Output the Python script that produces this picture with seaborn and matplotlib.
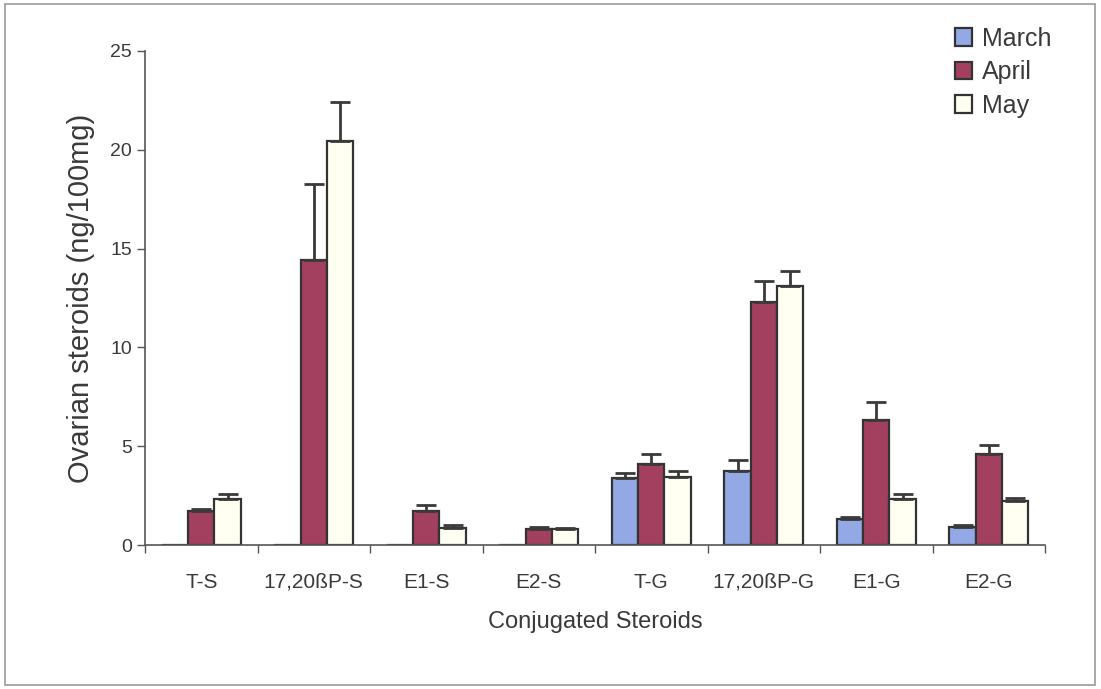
import matplotlib
matplotlib.use("Agg")
import matplotlib.pyplot as plt
import seaborn as sns
import pandas as pd
import numpy as np
from matplotlib.patches import Rectangle

categories = ["T-S", "17,20ßP-S", "E1-S", "E2-S", "T-G", "17,20ßP-G", "E1-G", "E2-G"]
months = ["March", "April", "May"]
march = [0, 0, 0, 0, 3.37, 3.75, 1.30, 0.93]
march_err = [0, 0, 0, 0, 0.28, 0.54, 0.13, 0.08]
april = [1.74, 14.4, 1.74, 0.79, 4.09, 12.29, 6.35, 4.63]
april_err = [0.08, 3.85, 0.28, 0.12, 0.54, 1.06, 0.89, 0.42]
may = [2.31, 20.45, 0.84, 0.79, 3.45, 13.13, 2.31, 2.24]
may_err = [0.27, 1.95, 0.17, 0.08, 0.29, 0.76, 0.25, 0.12]
yticks = [0, 5, 10, 15, 20, 25]

sns.set_theme(style="white")
plt.rcParams['font.family'] = ['Liberation Sans', 'DejaVu Sans']
text_color = "#3a3a3a"

rows = []
for m, vals in zip(months, [march, april, may]):
    for c, v in zip(categories, vals):
        rows.append({"Steroid": c, "Month": m, "Value": v})
df = pd.DataFrame(rows)
errs = {"March": march_err, "April": april_err, "May": may_err}

fig = plt.figure(figsize=(11.01, 6.89), dpi=100)
ax = fig.add_axes([145/1101, 1-545/689, 900/1101, 494/689])

palette = {"March": "#93a9e6", "April": "#a3405f", "May": "#fffff2"}
sns.barplot(data=df, x="Steroid", y="Value", hue="Month", order=categories,
            hue_order=months, palette=palette, width=0.7, edgecolor="#333333",
            linewidth=1.6, ax=ax, saturation=1, errorbar=None)

for cont, m in zip(ax.containers, months):
    for bar, e in zip(cont, errs[m]):
        if e <= 0:
            continue
        xc = bar.get_x() + bar.get_width() / 2
        h = bar.get_height()
        ax.errorbar([xc], [h], yerr=[[0], [e]], fmt="none", ecolor="#3a3a3a",
                    elinewidth=2, capsize=7, capthick=2, zorder=1)

ax.set_ylim(0, 25)
ax.set_xlim(-0.5, 7.5)
ax.set_yticks(yticks)
ax.set_yticklabels([str(t) for t in yticks], fontsize=14, color=text_color)
ax.set_xticks(np.arange(-0.5, 8, 1.0))
ax.set_xticklabels([])
ax.set_xticks(np.arange(0, 8), minor=True)
ax.set_xticklabels(categories, minor=True, fontsize=15, color=text_color)
ax.tick_params(axis="x", which="major", direction="out", length=6, width=1, color="#555555", bottom=True)
ax.tick_params(axis="x", which="minor", length=0, pad=20)
ax.tick_params(axis="y", direction="out", length=6, width=1, color="#555555", left=True)

for s in ["top", "right"]:
    ax.spines[s].set_visible(False)
for s in ["left", "bottom"]:
    ax.spines[s].set_color("#555555")
    ax.spines[s].set_linewidth(1.2)

ax.set_xlabel("Conjugated Steroids", fontsize=17, color=text_color, labelpad=14)
ax.set_ylabel("Ovarian steroids (ng/100mg)", fontsize=21, color=text_color, labelpad=11)

handles, labels = ax.get_legend_handles_labels()
ax.legend(handles, labels, loc="upper left", bbox_to_anchor=(932/1101, 1-4/689),
          bbox_transform=fig.transFigure, frameon=False, fontsize=18,
          handlelength=0.7, handleheight=0.7, handletextpad=0.4, labelspacing=0.38,
          labelcolor=text_color)

fig.patches.append(Rectangle((5/1101, 4/689), 1090/1101, 681/689, transform=fig.transFigure,
                             fill=False, edgecolor="#9a9a9a", linewidth=1.2))

fig.savefig("out.png", dpi=100)
